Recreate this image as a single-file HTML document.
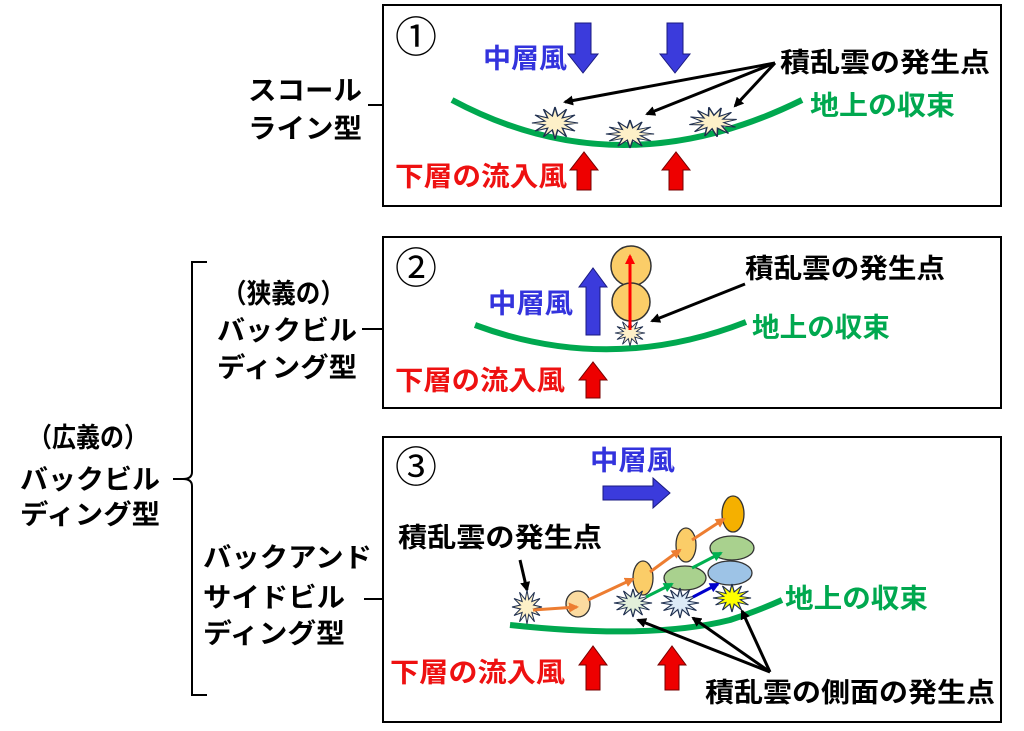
<!DOCTYPE html>
<html><head><meta charset="utf-8"><style>
html,body{margin:0;padding:0;background:#fff;}
svg{display:block;}
text{font-family:"Liberation Sans","Noto Sans CJK JP",sans-serif;font-weight:bold;}
</style></head><body>
<svg width="1024" height="731" viewBox="0 0 1024 731" xmlns="http://www.w3.org/2000/svg">
<defs>
<polygon id="star" points="20,0 8.7,2.3 17.3,10 6.4,6.4 10,17.3 2.3,8.7 0,20 -2.3,8.7 -10,17.3 -6.4,6.4 -17.3,10 -8.7,2.3 -20,0 -8.7,-2.3 -17.3,-10 -6.4,-6.4 -10,-17.3 -2.3,-8.7 0,-20 2.3,-8.7 10,-17.3 6.4,-6.4 17.3,-10 8.7,-2.3" stroke="#1f2f4f" stroke-width="1.3"/>
<marker id="ab" markerWidth="10" markerHeight="10" refX="8" refY="5" orient="auto" markerUnits="userSpaceOnUse"><path d="M0,0 L10,5 L0,10 Z" fill="#000"/></marker>
<marker id="ao" markerWidth="10" markerHeight="10" refX="8" refY="5" orient="auto" markerUnits="userSpaceOnUse"><path d="M0,0 L10,5 L0,10 Z" fill="#ed7d31"/></marker>
<marker id="ag" markerWidth="10" markerHeight="10" refX="8" refY="5" orient="auto" markerUnits="userSpaceOnUse"><path d="M0,0 L10,5 L0,10 Z" fill="#00b050"/></marker>
<marker id="abl" markerWidth="10" markerHeight="10" refX="8" refY="5" orient="auto" markerUnits="userSpaceOnUse"><path d="M0,0 L10,5 L0,10 Z" fill="#0000cc"/></marker>
<marker id="ar" markerWidth="10" markerHeight="10" refX="8" refY="5" orient="auto" markerUnits="userSpaceOnUse"><path d="M0,0 L10,5 L0,10 Z" fill="#ff0000"/></marker>
</defs>

<!-- left labels -->
<g font-size="27" fill="#000">
<text x="248" y="100" textLength="114" lengthAdjust="spacingAndGlyphs">スコール</text>
<text x="248" y="138" textLength="114" lengthAdjust="spacingAndGlyphs">ライン型</text>
<line x1="368" y1="105" x2="383" y2="105" stroke="#000" stroke-width="2"/>

<text x="222" y="303" textLength="123" lengthAdjust="spacingAndGlyphs">（狭義の）</text>
<text x="217" y="340" textLength="140" lengthAdjust="spacingAndGlyphs">バックビル</text>
<text x="217" y="377" textLength="140" lengthAdjust="spacingAndGlyphs">ディング型</text>
<line x1="362" y1="329" x2="383" y2="329" stroke="#000" stroke-width="2"/>

<text x="28" y="447" textLength="120" lengthAdjust="spacingAndGlyphs">（広義の）</text>
<text x="20" y="489" textLength="140" lengthAdjust="spacingAndGlyphs">バックビル</text>
<text x="20" y="524" textLength="140" lengthAdjust="spacingAndGlyphs">ディング型</text>

<text x="203" y="567" textLength="169" lengthAdjust="spacingAndGlyphs">バックアンド</text>
<text x="203" y="607" textLength="142" lengthAdjust="spacingAndGlyphs">サイドビル</text>
<text x="203" y="643" textLength="142" lengthAdjust="spacingAndGlyphs">ディング型</text>
<line x1="364" y1="599" x2="383" y2="599" stroke="#000" stroke-width="2"/>
</g>
<path d="M207,262 L192,262 L192,472 Q192,479 183,479 L173,479 M183,479 Q192,479 192,486 L192,695 L207,695" fill="none" stroke="#000" stroke-width="2"/>

<!-- panel boxes -->
<rect x="383" y="5" width="618" height="201" fill="none" stroke="#000" stroke-width="2"/>
<rect x="383" y="237" width="618" height="171" fill="none" stroke="#000" stroke-width="2"/>
<rect x="383" y="437" width="618" height="285" fill="none" stroke="#000" stroke-width="2"/>

<!-- Panel 1 -->
<text x="395" y="52" font-size="42" style="font-weight:normal">①</text>
<text x="483" y="68" font-size="27" fill="#3333dd" textLength="84" lengthAdjust="spacingAndGlyphs">中層風</text>
<polygon points="575,23 591,23 591,54 598,54 583,73 568,54 575,54" fill="#3b3bdc" stroke="#1a1a80" stroke-width="1"/>
<polygon points="667,23 683,23 683,54 690,54 675,73 660,54 667,54" fill="#3b3bdc" stroke="#1a1a80" stroke-width="1"/>
<text x="780" y="72" font-size="27" fill="#000" textLength="210" lengthAdjust="spacingAndGlyphs">積乱雲の発生点</text>
<path d="M452,100 Q620,190 802,100" fill="none" stroke="#00a84f" stroke-width="6"/>
<text x="810" y="115" font-size="27" fill="#00a84f" textLength="145" lengthAdjust="spacingAndGlyphs">地上の収束</text>
<use href="#star" transform="translate(555,123) scale(1.15,0.8)" fill="#fdf0c8"/>
<use href="#star" transform="translate(630,134) scale(1.2,0.7)" fill="#fdf0c8"/>
<use href="#star" transform="translate(713,122) scale(1.2,0.75) rotate(-10)" fill="#fdf0c8"/>
<line x1="775" y1="63" x2="565" y2="102" stroke="#000" stroke-width="3" marker-end="url(#ab)"/>
<line x1="775" y1="63" x2="647" y2="114" stroke="#000" stroke-width="3" marker-end="url(#ab)"/>
<line x1="775" y1="63" x2="735" y2="106" stroke="#000" stroke-width="3" marker-end="url(#ab)"/>
<text x="395" y="186" font-size="27" fill="#ee1111" textLength="172" lengthAdjust="spacingAndGlyphs">下層の流入風</text>
<polygon points="577,190 591,190 591,170 598,170 584,152 570,170 577,170" fill="#ee0000" stroke="#700" stroke-width="1"/>
<polygon points="669,190 683,190 683,170 690,170 676,152 662,170 669,170" fill="#ee0000" stroke="#700" stroke-width="1"/>

<!-- Panel 2 -->
<text x="395" y="283" font-size="42" style="font-weight:normal">②</text>
<text x="488" y="313" font-size="27" fill="#3333dd" textLength="85" lengthAdjust="spacingAndGlyphs">中層風</text>
<polygon points="586,335 600,335 600,287 607,287 593,268 579,287 586,287" fill="#3b3bdc" stroke="#1a1a80" stroke-width="1"/>
<circle cx="631" cy="266" r="20" fill="#fbcd68" stroke="#333" stroke-width="1.5"/>
<circle cx="631" cy="302" r="19" fill="#fbcd68" stroke="#333" stroke-width="1.5"/>
<path d="M475,325 Q610,375 746,322" fill="none" stroke="#00a84f" stroke-width="6"/>
<use href="#star" transform="translate(630,333) scale(0.75,0.65)" fill="#fdf0c8"/>
<line x1="630" y1="330" x2="630" y2="256" stroke="#ff0000" stroke-width="3" marker-end="url(#ar)"/>
<text x="745" y="278" font-size="27" fill="#000" textLength="200" lengthAdjust="spacingAndGlyphs">積乱雲の発生点</text>
<line x1="745" y1="284" x2="652" y2="321" stroke="#000" stroke-width="3" marker-end="url(#ab)"/>
<text x="752" y="337" font-size="27" fill="#00a84f" textLength="138" lengthAdjust="spacingAndGlyphs">地上の収束</text>
<text x="395" y="390" font-size="27" fill="#ee1111" textLength="170" lengthAdjust="spacingAndGlyphs">下層の流入風</text>
<polygon points="586,398 600,398 600,380 607,380 593,362 579,380 586,380" fill="#ee0000" stroke="#700" stroke-width="1"/>

<!-- Panel 3 -->
<text x="395" y="482" font-size="42" style="font-weight:normal">③</text>
<text x="590" y="470" font-size="27" fill="#3333dd" textLength="85" lengthAdjust="spacingAndGlyphs">中層風</text>
<polygon points="603,486 653,486 653,478 670,493 653,508 653,500 603,500" fill="#3b3bdc" stroke="#1a1a80" stroke-width="1"/>
<text x="398" y="547" font-size="27" fill="#000" textLength="204" lengthAdjust="spacingAndGlyphs">積乱雲の発生点</text>
<line x1="520" y1="560" x2="527" y2="590" stroke="#000" stroke-width="3" marker-end="url(#ab)"/>
<path d="M510,625 Q650,640 730,620 Q760,610 782,600" fill="none" stroke="#00a84f" stroke-width="6"/>
<text x="785" y="608" font-size="27" fill="#00a84f" textLength="143" lengthAdjust="spacingAndGlyphs">地上の収束</text>
<use href="#star" transform="translate(527,607) scale(0.75,0.85)" fill="#fdf0c8"/>
<ellipse cx="578" cy="604" rx="12" ry="13" fill="#fbdba0" stroke="#333" stroke-width="1.3"/>
<ellipse cx="643" cy="578" rx="10" ry="17" fill="#fbcd68" stroke="#333" stroke-width="1.3"/>
<ellipse cx="686" cy="545" rx="10" ry="17" fill="#fbcd68" stroke="#333" stroke-width="1.3"/>
<ellipse cx="733" cy="514" rx="11" ry="18" fill="#f5b000" stroke="#333" stroke-width="1.3"/>
<ellipse cx="685" cy="578" rx="21" ry="12" fill="#a9d18e" stroke="#333" stroke-width="1.3"/>
<ellipse cx="732" cy="548" rx="22" ry="12" fill="#a9d18e" stroke="#333" stroke-width="1.3"/>
<ellipse cx="730" cy="573" rx="22" ry="12" fill="#9dc3e6" stroke="#333" stroke-width="1.3"/>
<use href="#star" transform="translate(633,603) scale(0.95,0.7)" fill="#e2efda"/>
<use href="#star" transform="translate(680,603) scale(0.95,0.75)" fill="#ddebf7"/>
<use href="#star" transform="translate(732,598) scale(0.95,0.7)" fill="#ffff00"/>
<line x1="533" y1="610" x2="577" y2="607" stroke="#ed7d31" stroke-width="3" marker-end="url(#ao)"/>
<line x1="588" y1="600" x2="633" y2="579" stroke="#ed7d31" stroke-width="3" marker-end="url(#ao)"/>
<line x1="650" y1="572" x2="680" y2="550" stroke="#ed7d31" stroke-width="3" marker-end="url(#ao)"/>
<line x1="692" y1="540" x2="724" y2="519" stroke="#ed7d31" stroke-width="3" marker-end="url(#ao)"/>
<line x1="646" y1="597" x2="672" y2="584" stroke="#00b050" stroke-width="3" marker-end="url(#ag)"/>
<line x1="692" y1="568" x2="721" y2="553" stroke="#00b050" stroke-width="3" marker-end="url(#ag)"/>
<line x1="693" y1="597" x2="718" y2="584" stroke="#0000cc" stroke-width="3" marker-end="url(#abl)"/>
<line x1="770" y1="672" x2="638" y2="620" stroke="#000" stroke-width="3" marker-end="url(#ab)"/>
<line x1="770" y1="672" x2="693" y2="618" stroke="#000" stroke-width="3" marker-end="url(#ab)"/>
<line x1="770" y1="672" x2="742" y2="611" stroke="#000" stroke-width="3" marker-end="url(#ab)"/>
<text x="705" y="702" font-size="27" fill="#000" textLength="290" lengthAdjust="spacingAndGlyphs">積乱雲の側面の発生点</text>
<text x="390" y="682" font-size="27" fill="#ee1111" textLength="175" lengthAdjust="spacingAndGlyphs">下層の流入風</text>
<polygon points="586,690 600,690 600,665 607,665 593,646 579,665 586,665" fill="#ee0000" stroke="#700" stroke-width="1"/>
<polygon points="665,690 679,690 679,665 686,665 672,646 658,665 665,665" fill="#ee0000" stroke="#700" stroke-width="1"/>
</svg>
</body></html>
